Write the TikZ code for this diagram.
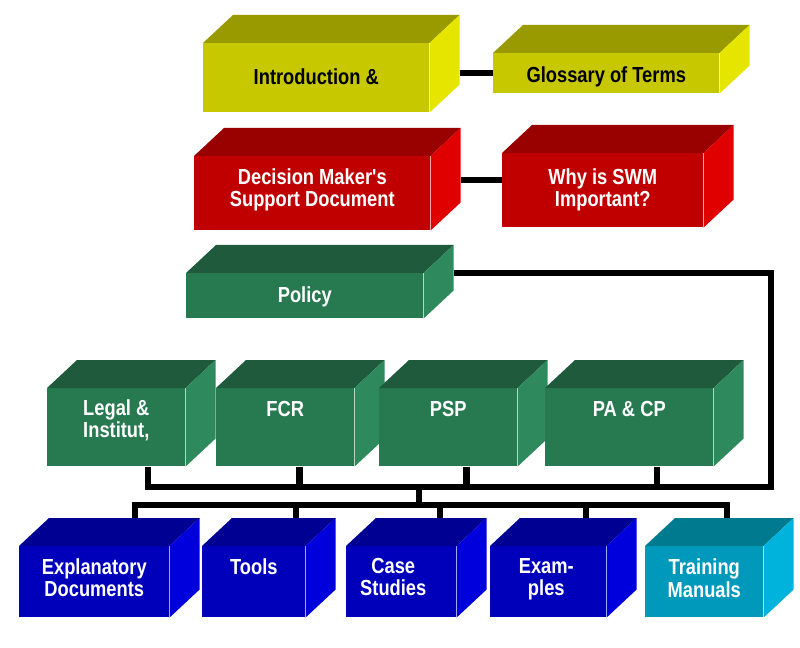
\documentclass[tikz,border=0pt]{standalone}
\usepackage{fontspec}
\newfontfamily\boxfont[FakeStretch=0.84]{Liberation Sans}
\usetikzlibrary{positioning}

\definecolor{ylwF}{HTML}{C8C800}
\definecolor{ylwT}{HTML}{999900}
\definecolor{ylwS}{HTML}{E5E500}
\definecolor{redF}{HTML}{C00000}
\definecolor{redT}{HTML}{990000}
\definecolor{redS}{HTML}{E00000}
\definecolor{grnF}{HTML}{277A50}
\definecolor{grnT}{HTML}{1F5A3C}
\definecolor{grnS}{HTML}{2E8A5C}
\definecolor{bluF}{HTML}{0000BB}
\definecolor{bluT}{HTML}{000092}
\definecolor{bluS}{HTML}{0000DD}
\definecolor{cynF}{HTML}{0099BB}
\definecolor{cynT}{HTML}{007A8F}
\definecolor{cynS}{HTML}{00B3DD}

\begin{document}
\begin{tikzpicture}[x=0.025cm, y=-0.025cm,
    cubefront/.style={fill=#1F, anchor=north west, inner sep=0pt},
    wtxt/.style={font={\boxfont\bfseries\fontsize{15.5}{15.5}\selectfont}, text=white, align=center, inner sep=0pt},
    dtxt/.style={wtxt, text=black},
    link/.style={line width=0.16cm, line join=miter}]
\useasboundingbox (0,0) rectangle (800,648);

% boxes: front face, then top and side
\foreach \nm/\col/\x/\y/\w/\h in {
    intro/ylw/203/43/226/69, gloss/ylw/493/53/226/40,
    dms/red/194/156/236/74, why/red/502/153/201/74,
    policy/grn/186/273/237/45,
    legal/grn/47/388/138/78, fcr/grn/216/388/138/78, psp/grn/379/388/138/78, pacp/grn/545/388/168/78,
    expl/blu/19/546/150/71, tools/blu/202/546/103/71, case/blu/346/546/110/71,
    exam/blu/490/546/116/71, train/cyn/645/546/118/71}
{
    \node[cubefront=\col, minimum width=\w*0.025cm, minimum height=\h*0.025cm] (\nm) at (\x,\y) {};
    \fill[fill=\col T] (\nm.north west) -- ++(30,-28) -- ([shift={(30,-28)}]\nm.north east) -- (\nm.north east) -- cycle;
    \fill[fill=\col S] (\nm.north east) -- ++(30,-28) -- ([shift={(30,-28)}]\nm.south east) -- (\nm.south east) -- cycle;
}

% texts
\node[dtxt, below=0.63cm of intro.north] (intro-t) {Introduction \&};
\node[dtxt, below=0.33cm of gloss.north] (gloss-t) {Glossary of Terms};
\node[wtxt, below=0.31cm of dms.north] (dms-t) {Decision Maker's\\Support Document};
\node[wtxt, below=0.38cm of why.north] (why-t) {Why is SWM\\Important?};
\node[wtxt, below=0.33cm of policy.north] (policy-t) {Policy};
\node[wtxt, below=0.29cm of legal.north] (legal-t) {Legal \&\\Institut,};
\node[wtxt, below=0.32cm of fcr.north] (fcr-t) {FCR};
\node[wtxt, below=0.32cm of psp.north] (psp-t) {PSP};
\node[wtxt, below=0.32cm of pacp.north] (pacp-t) {PA \& CP};
\node[wtxt, below=0.31cm of expl.north] (expl-t) {Explanatory\\Documents};
\node[wtxt, below=0.31cm of tools.north] (tools-t) {Tools};
\node[wtxt, below=0.31cm of case.north, xshift=-0.2cm] (case-t) {Case\\Studies};
\node[wtxt, below=0.31cm of exam.north, xshift=-0.05cm] (exam-t) {Exam-\\ples};
\node[wtxt, below=0.31cm of train.north] (train-t) {Training\\[1pt]Manuals};

% connectors
\coordinate (j1) at ([shift={(30,-5)}]intro.east);
\coordinate (j2) at ([shift={(30,-13)}]dms.east);
\coordinate (j3) at ([shift={(30,0)}]policy.north east);
\coordinate (gbus) at (771,487);
\coordinate (lbus) at (419,505);
\foreach \nm/\d in {expl/41, tools/42, case/39, exam/38, train/23}
    \coordinate (\nm-top) at ([shift={(\d,-28)}]\nm.north);

\draw[link] (j1) -- (j1 -| gloss.west);
\draw[link] (j2) -- (j2 -| why.west);
\draw[link] (j3) -| (gbus) -| (legal.-51);
\draw[link] (fcr.-70) -- (fcr.-70 |- gbus);
\draw[link] (psp.-65) -- (psp.-65 |- gbus);
\draw[link] (pacp.-55) -- (pacp.-55 |- gbus);
\draw[link] (lbus |- gbus) -- (lbus);
\draw[link] (expl-top) |- (lbus -| train-top) -- (train-top);
\foreach \nm in {tools, case, exam}
    \draw[link] (\nm-top) -- (\nm-top |- lbus);
\end{tikzpicture}
\end{document}
